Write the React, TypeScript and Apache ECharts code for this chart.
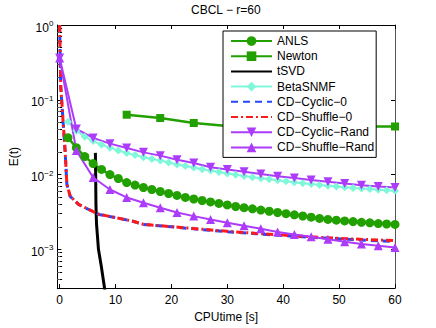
import React, { useEffect, useRef } from 'react';
import * as echarts from 'echarts';

const FONT = '"Liberation Sans", Arial, Helvetica, sans-serif';

// x tick labels
const xTicks = [0, 10, 20, 30, 40, 50, 60];
const yMin = 3.03e-4;
const yMax = 1;

// ANLS & BetaSNMF sample times [s]
const sampleTime = [1.5, 3, 4.5, 6, 7.5, 9, 10.5, 12, 13.5, 15, 16.5, 18, 19.5, 21, 22.5, 24, 25.5, 27, 28.5, 30,
  31.5, 33, 34.5, 36, 37.5, 39, 40.5, 42, 43.5, 45, 46.5, 48, 49.5, 51, 52.5, 54, 55.5, 57, 58.5, 60];
const anlsE = [0.0311, 0.0229, 0.0174, 0.0140, 0.0117, 0.0100, 0.00885, 0.00782, 0.00724, 0.00671,
  0.00631, 0.00593, 0.00558, 0.00525, 0.00494, 0.00471, 0.00450, 0.00430, 0.00411, 0.00392, 0.00374,
  0.00361, 0.00348, 0.00335, 0.00323, 0.00311, 0.00300, 0.00289, 0.00279, 0.00269, 0.00259, 0.00251,
  0.00245, 0.00240, 0.00235, 0.00230, 0.00226, 0.00221, 0.00218, 0.00215];
const betaE = [0.0509, 0.0386, 0.0321, 0.0280, 0.0251, 0.0229, 0.0209, 0.0194, 0.0182, 0.0171,
  0.0161, 0.0154, 0.0145, 0.0136, 0.0130, 0.0124, 0.0118, 0.0113, 0.0108, 0.0103,
  0.00994, 0.00958, 0.00923, 0.00893, 0.00863, 0.00837, 0.00811, 0.00787, 0.00766, 0.00745,
  0.00727, 0.00709, 0.00692, 0.00677, 0.00663, 0.00651, 0.00639, 0.00627, 0.00618, 0.00608];

// Newton
const newtonTime = [12, 18, 24, 30, 36, 42, 48, 54, 60];
const newtonE = [0.0631, 0.0570, 0.0489, 0.0447, 0.0445, 0.0444, 0.0442, 0.0440, 0.0439];

// tSVD
const tsvdTime = [6.4, 6.45, 6.5, 6.6, 6.95, 7.45, 8.05, 8.6];
const tsvdE = [0.0195, 0.0100, 0.0040, 0.0022, 0.0010, 0.0006, 0.0003, 0.00015];

// CD-Cyclic-0 / CD-Shuffle-0
const cd0Time = [0, 0.2, 0.6, 1.0, 1.3, 1.9, 3.4, 5.2, 7, 10, 13, 15, 20, 25, 30, 35, 40, 45, 50, 55, 60];
const cyclic0E = [1.0, 0.149, 0.0541, 0.0197, 0.00736, 0.00509, 0.00398, 0.00341, 0.00293, 0.00265, 0.00238,
  0.00215, 0.00200, 0.00185, 0.00172, 0.00162, 0.00153, 0.00145, 0.00138, 0.00132, 0.00127];
const shuffle0E = [1.0, 0.152, 0.0548, 0.0200, 0.00745, 0.00512, 0.00400, 0.00342, 0.00294, 0.00266, 0.00239,
  0.00216, 0.00201, 0.00187, 0.00174, 0.00164, 0.00155, 0.00147, 0.00140, 0.00135, 0.00131];

// CD-Cyclic-Rand / CD-Shuffle-Rand
const randTime = [0, 3, 6, 9, 12, 15, 18, 21, 24, 27, 30, 33, 36, 39, 42, 45, 48, 51, 54, 57, 60];
const cyclicRandE = [0.363, 0.0407, 0.0309, 0.0259, 0.0226, 0.0198, 0.0179, 0.0158, 0.0143, 0.0125, 0.0117,
  0.01087, 0.01016, 0.00952, 0.00896, 0.00845, 0.00799, 0.00759, 0.00720, 0.00692, 0.00671];
const shuffleRandE = [0.363, 0.0209, 0.00912, 0.00631, 0.00494, 0.00420, 0.00360, 0.00311, 0.00278, 0.00251, 0.00226,
  0.00206, 0.00188, 0.00171, 0.00158, 0.00147, 0.00136, 0.00126, 0.00118, 0.00112, 0.00106];

const seriesNames = ['ANLS', 'Newton', 'tSVD', 'BetaSNMF', 'CD−Cyclic−0', 'CD−Shuffle−0', 'CD−Cyclic−Rand', 'CD−Shuffle−Rand'];

const GREEN = '#22a000';
const CYAN = '#7ff7d9';
const BLUE = '#2446ff';
const RED = '#ff1a1a';
const PURPLE = '#ad3cfa';

const zip = (t: number[], v: number[]) => t.map((x, i) => [x, v[i]]);

// minor tick positions (decoration on log10 scale)
const minorFactors = [2, 3, 4, 5, 6, 7, 8, 9];
const decades = [-4, -3, -2, -1];

export default function App() {
  const ref = useRef<HTMLDivElement>(null);
  useEffect(() => {
    if (!ref.current) return;
    const chart = echarts.init(ref.current, null, { renderer: 'svg' });
    const lmin = Math.log10(yMin);
    const minorTicks: number[] = [];
    decades.forEach((d) => minorFactors.forEach((k) => {
      const v = d + Math.log10(k);
      if (v > lmin && v < 0) minorTicks.push(v);
    }));

    const axisLine = { show: true, onZero: false, lineStyle: { color: '#000', width: 1 } };
    const rich = {
      b: { fontSize: 12, lineHeight: 16, fontFamily: FONT, color: '#000' },
      s: { fontSize: 8, lineHeight: 9, verticalAlign: 'top', fontFamily: FONT, color: '#000' },
    };
    const noSym = { color: 'rgba(0,0,0,0)', borderWidth: 0, opacity: 0 };

    const option: any = {
      animation: false,
      backgroundColor: '#fff',
      title: {
        text: 'CBCL − r=60', left: 191, top: 4, padding: 0,
        textStyle: { fontSize: 12, fontWeight: 'normal', color: '#000', fontFamily: FONT },
      },
      grid: { left: 57, right: 41, top: 25, bottom: 38, containLabel: false },
      legend: {
        orient: 'vertical', left: 223, top: 31, padding: [4, 2, 4, 7],
        itemWidth: 41, itemHeight: 12, itemGap: 3.2,
        backgroundColor: '#fff', borderColor: '#000', borderWidth: 1, borderRadius: 0,
        selectedMode: false,
        textStyle: { fontSize: 12, color: '#000', fontFamily: FONT, lineHeight: 12 },
        data: seriesNames.map((n) =>
          n === 'tSVD' || n === 'CD−Cyclic−0' || n === 'CD−Shuffle−0' ? { name: n, itemStyle: noSym } : { name: n }),
      },
      xAxis: [
        {
          type: 'value', min: -0.4, max: 60, position: 'bottom',
          axisLine,
          axisTick: { show: true, inside: true, length: 4, customValues: xTicks, lineStyle: { color: '#000' } },
          axisLabel: { show: true, customValues: xTicks, margin: 6, fontSize: 12, color: '#000', fontFamily: FONT },
          splitLine: { show: false },
          name: 'CPUtime [s]', nameLocation: 'middle', nameGap: 18,
          nameTextStyle: { fontSize: 12, color: '#000', fontFamily: FONT },
        },
        {
          type: 'value', min: -0.4, max: 60, position: 'top',
          axisLine,
          axisTick: { show: true, inside: true, length: 4, customValues: xTicks, lineStyle: { color: '#000' } },
          axisLabel: { show: false },
          splitLine: { show: false },
        },
      ],
      yAxis: [
        {
          type: 'log', logBase: 10, min: yMin, max: yMax, position: 'left',
          axisLine,
          axisTick: { show: true, inside: true, length: 4, lineStyle: { color: '#000' } },
          axisLabel: {
            show: true, showMinLabel: false, margin: 4, padding: [5, 0, 0, 0],
            formatter: (v: number) => {
              const e = Math.round(Math.log10(v));
              return '{b|10}{s|' + (e < 0 ? '−' + (-e) : String(e)) + '}';
            },
            rich,
          },
          splitLine: { show: false },
          name: 'E(t)', nameLocation: 'middle', nameGap: 36,
          nameTextStyle: { fontSize: 12, color: '#000', fontFamily: FONT },
        },
        {
          type: 'log', logBase: 10, min: yMin, max: yMax, position: 'right',
          axisLine: { show: true, onZero: false, lineStyle: { color: '#555', width: 1 } },
          axisTick: { show: true, inside: true, length: 4, lineStyle: { color: '#000' } },
          axisLabel: { show: false },
          splitLine: { show: false },
        },
        {
          type: 'value', min: lmin, max: 0, position: 'left',
          axisLine: { show: false },
          axisTick: { show: true, inside: true, length: 2.5, customValues: minorTicks, lineStyle: { color: '#000' } },
          axisLabel: { show: false },
          splitLine: { show: false },
        },
        {
          type: 'value', min: lmin, max: 0, position: 'right',
          axisLine: { show: false },
          axisTick: { show: true, inside: true, length: 2.5, customValues: minorTicks, lineStyle: { color: '#555' } },
          axisLabel: { show: false },
          splitLine: { show: false },
        },
      ],
      series: [
        {
          name: 'ANLS', type: 'line', data: zip(sampleTime, anlsE),
          symbol: 'circle', symbolSize: 9, showAllSymbol: true,
          lineStyle: { color: GREEN, width: 2.5 }, itemStyle: { color: GREEN, borderWidth: 0 },
        },
        {
          name: 'Newton', type: 'line', data: zip(newtonTime, newtonE),
          symbol: 'rect', symbolSize: 8, showAllSymbol: true,
          lineStyle: { color: GREEN, width: 2.5 }, itemStyle: { color: GREEN, borderWidth: 0 },
        },
        {
          name: 'tSVD', type: 'line', data: zip(tsvdTime, tsvdE),
          symbol: 'none',
          lineStyle: { color: '#000', width: 3 }, itemStyle: { color: '#000' },
        },
        {
          name: 'BetaSNMF', type: 'line', data: zip(sampleTime, betaE),
          symbol: 'diamond', symbolSize: 8, showAllSymbol: true,
          lineStyle: { color: CYAN, width: 2 }, itemStyle: { color: CYAN, borderWidth: 0 },
        },
        {
          name: 'CD−Cyclic−0', type: 'line', data: zip(cd0Time, cyclic0E),
          symbol: 'none',
          lineStyle: { color: BLUE, width: 3, type: [7, 5] }, itemStyle: { color: BLUE },
        },
        {
          name: 'CD−Shuffle−0', type: 'line', data: zip(cd0Time, shuffle0E),
          symbol: 'none',
          lineStyle: { color: RED, width: 3, type: [7, 3, 2, 3] }, itemStyle: { color: RED },
        },
        {
          name: 'CD−Cyclic−Rand', type: 'line', data: zip(randTime, cyclicRandE),
          symbol: 'triangle', symbolRotate: 180, symbolSize: 9, showAllSymbol: true,
          lineStyle: { color: PURPLE, width: 2 }, itemStyle: { color: PURPLE, borderWidth: 0 },
        },
        {
          name: 'CD−Shuffle−Rand', type: 'line', data: zip(randTime, shuffleRandE),
          symbol: 'triangle', symbolSize: 9, showAllSymbol: true,
          lineStyle: { color: PURPLE, width: 2 }, itemStyle: { color: PURPLE, borderWidth: 0 },
        },
      ].map((s) => ({ ...s, xAxisIndex: 0, yAxisIndex: 0, silent: true, emphasis: { disabled: true } })),
    };
    chart.setOption(option);
    return () => chart.dispose();
  }, []);
  return <div ref={ref} style={{ position: 'fixed', left: 0, top: 0, width: 436, height: 328 }} />;
}
